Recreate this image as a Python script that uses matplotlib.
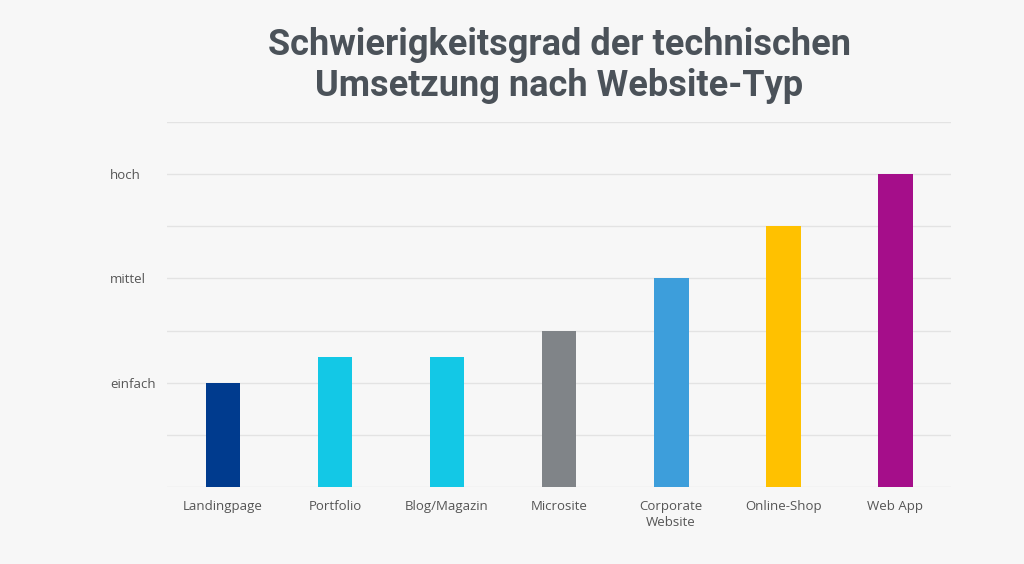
import matplotlib
matplotlib.use("Agg")
import matplotlib.pyplot as plt

categories = ["Landingpage", "Portfolio", "Blog/Magazin", "Microsite",
              "Corporate\nWebsite", "Online-Shop", "Web App"]
values = [2, 2.5, 2.5, 3, 4, 5, 6]
colors = ["#003b8e", "#13c8e6", "#13c8e6", "#808488", "#3d9edb", "#ffc100", "#a50e8a"]
ytick_vals = [0, 1, 2, 3, 4, 5, 6, 7]
ytick_labels = ["", "", "einfach", "", "mittel", "", "hoch", ""]
title = "Schwierigkeitsgrad der technischen\nUmsetzung nach Website-Typ"

bg = "#f7f7f7"
fig = plt.figure(figsize=(10.24, 5.64), dpi=100, facecolor=bg)
ax = fig.add_axes([0.163, 0.1365, 0.766, 0.6472], facecolor=bg)

x = list(range(len(categories)))
ax.bar(x, values, width=0.31, color=colors, zorder=3)
ax.set_xlim(-0.5, len(categories) - 0.5)
ax.set_ylim(0, 7)
ax.set_yticks(ytick_vals)
ax.set_yticklabels(ytick_labels, family="Open Sans", fontsize=9.5, color="#555555", ha="left")
ax.tick_params(axis="y", length=0, pad=41)
ax.set_xticks(x)
ax.set_xticklabels(categories, family="Open Sans", fontsize=9.5, color="#555555", linespacing=1.35)
ax.tick_params(axis="x", length=0, pad=9)
ax.grid(axis="y", color="#e3e3e3", linewidth=1, zorder=0)
for s in ax.spines.values():
    s.set_visible(False)

fig.text(0.546, 0.884, title, ha="center", va="center", family="Roboto", fontweight="bold",
         fontsize=26, color="#4b5259", linespacing=1.2)

fig.savefig("out.png", dpi=100, facecolor=bg)
